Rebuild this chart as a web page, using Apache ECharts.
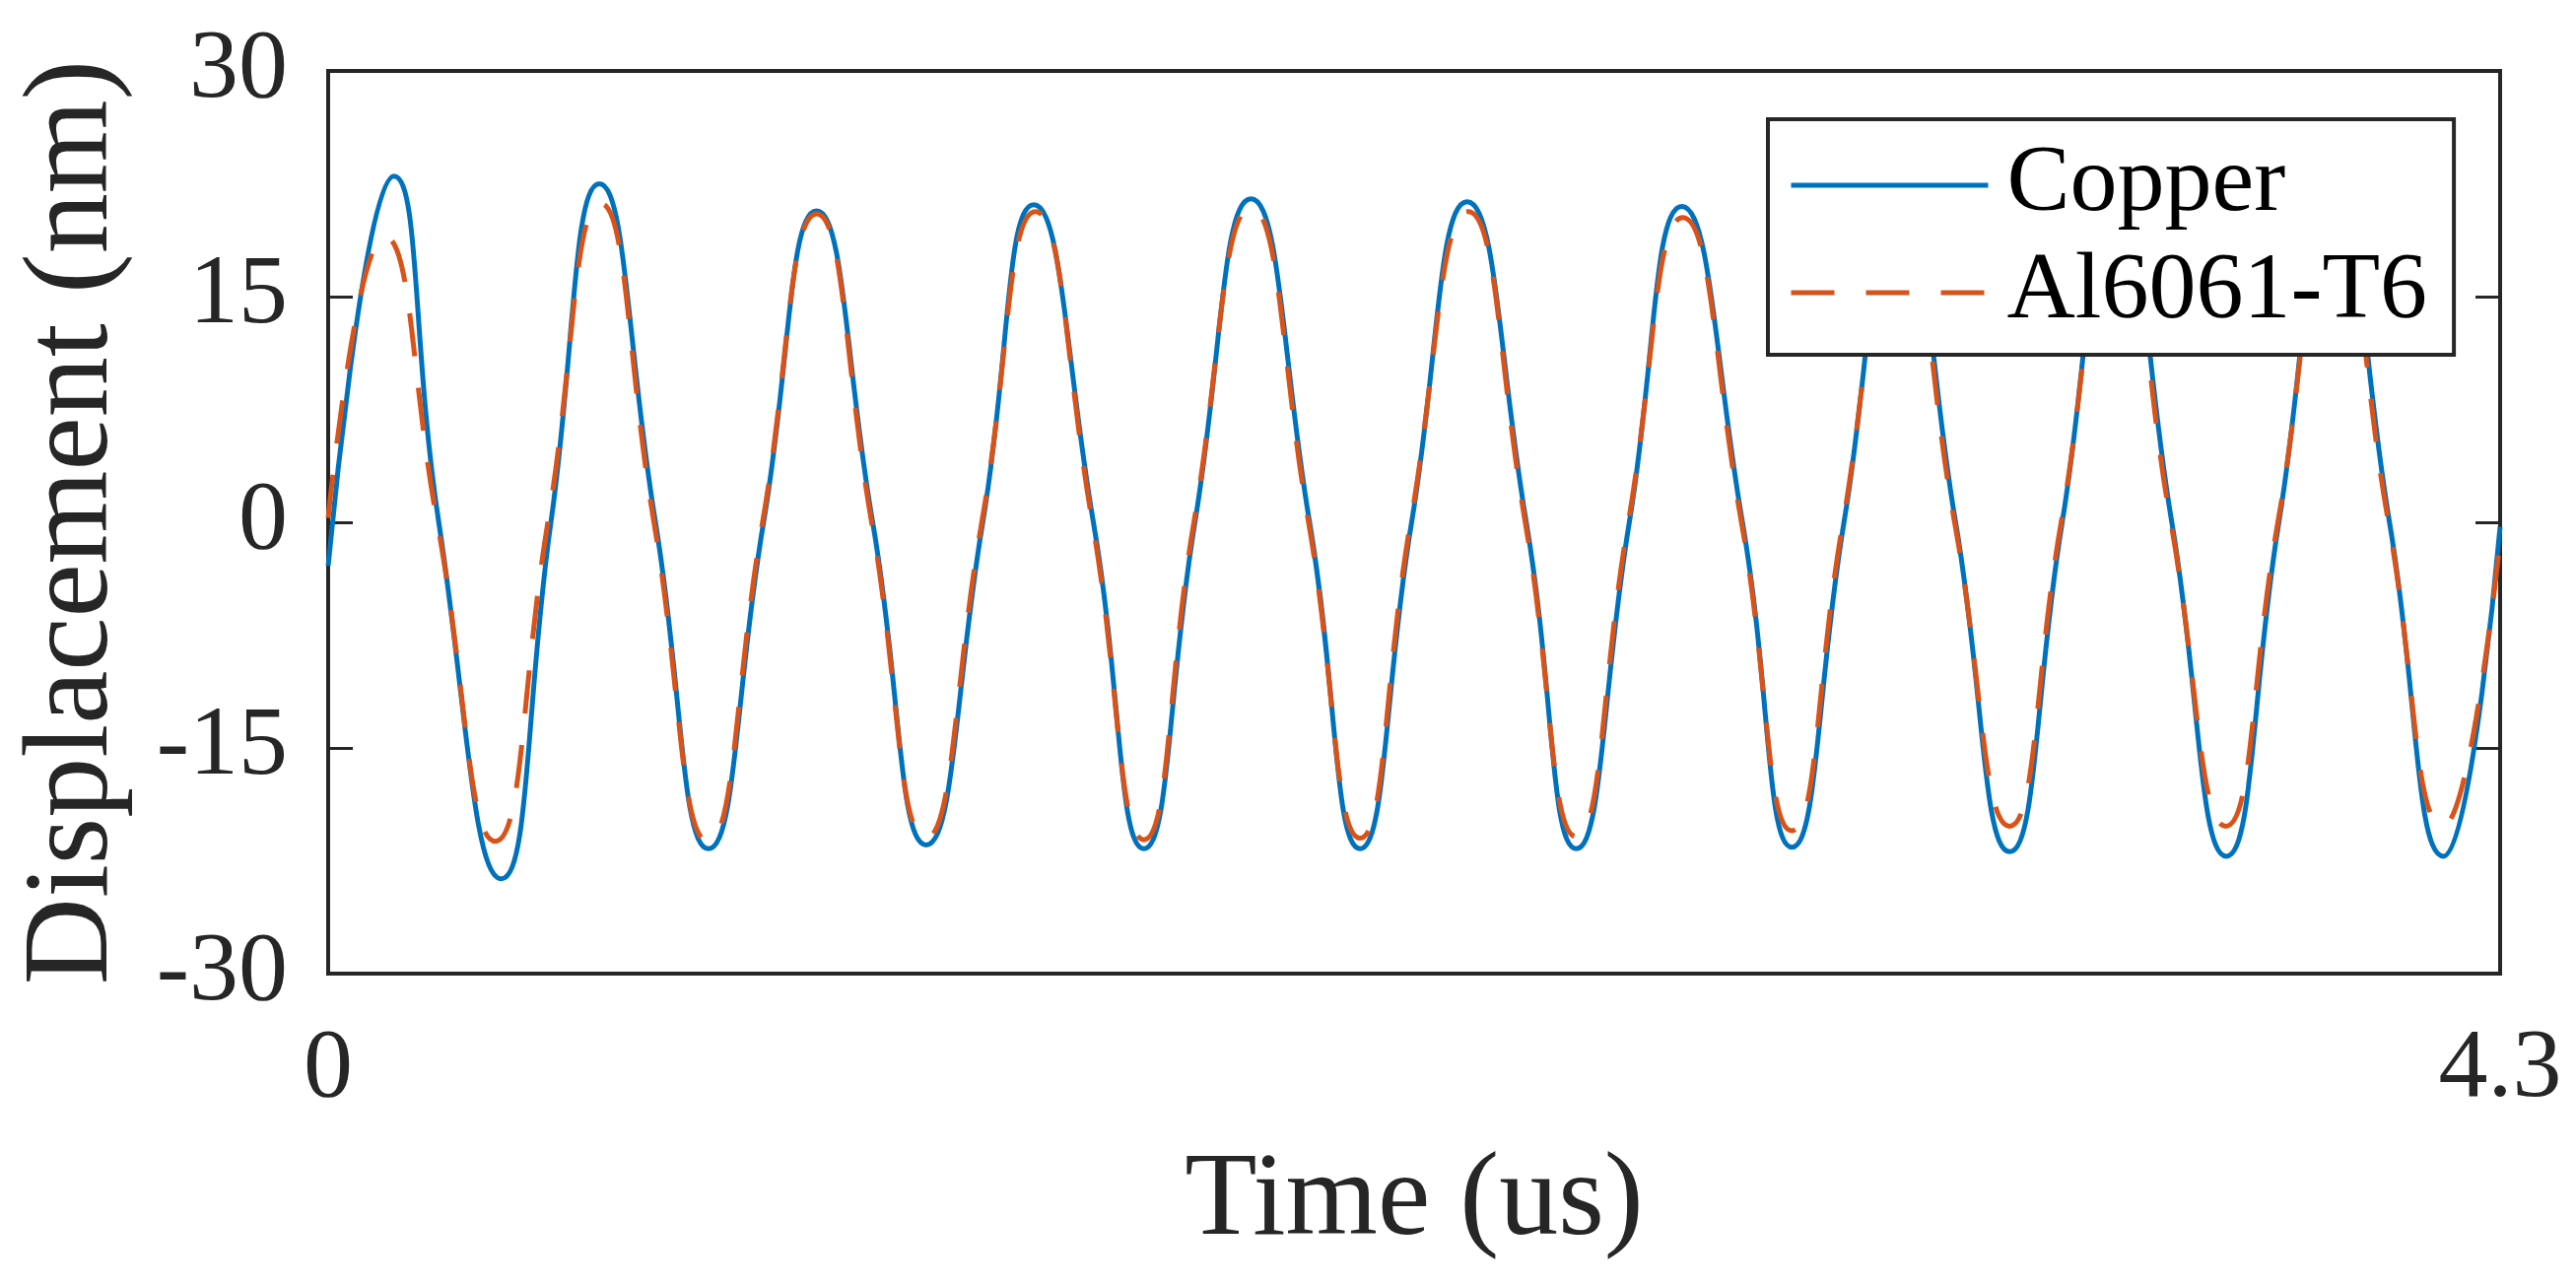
<!DOCTYPE html>
<html lang="en">
<head>
    <meta charset="UTF-8">
    <title>Displacement vs Time</title>
    <script src="https://cdn.jsdelivr.net/npm/echarts@6.0.0/dist/echarts.min.js"></script>
    <style>
        html, body { margin: 0; padding: 0; background: #fff; }
        #chart { width: 2614px; height: 1305px; }
    </style>
</head>
<body>
<div id="chart"></div>

<script>
    // values: peaks, zero crossings and troughs
    var copperTime = [0, 0.130, 0.219, 0.343, 0.441, 0.537, 0.648, 0.753, 0.862, 0.967,
        1.078, 1.184, 1.296, 1.397, 1.515, 1.615, 1.716, 1.827, 1.943, 2.043,
        2.145, 2.255, 2.372, 2.471, 2.576, 2.680, 2.800, 2.898, 3.001, 3.110,
        3.222, 3.329, 3.433, 3.540, 3.650, 3.758, 3.862, 3.970, 4.081, 4.188, 4.3];
    var copperDisp = [-2.9, 23.0, 0, -23.7, 0, 22.5, 0, -21.7, 0, 20.7,
        0, -21.45, 0, 21.1, 0, -21.7, 0, 21.5, 0, -21.7,
        0, 21.3, 0, -21.7, 0, 21.0, 0, -21.6, 0, 21.2,
        0, -21.9, 0, 21.3, 0, -22.2, 0, 21.3, 0, -22.2, -0.3];

    var alTime = [0, 0.111, 0.216, 0.331, 0.435, 0.539, 0.645, 0.752, 0.860, 0.967,
        1.076, 1.183, 1.294, 1.400, 1.513, 1.615, 1.714, 1.827, 1.941, 2.043,
        2.143, 2.257, 2.370, 2.471, 2.574, 2.682, 2.798, 2.898, 2.999, 3.110,
        3.220, 3.329, 3.431, 3.540, 3.648, 3.757, 3.860, 3.970, 4.079, 4.187, 4.3];
    var alDisp = [0.3, 19.0, 0, -21.2, 0, 21.2, 0, -21.2, 0, 20.5,
        0, -21.0, 0, 20.65, 0, -21.1, 0, 20.9, 0, -21.0,
        0, 20.65, 0, -20.9, 0, 20.25, 0, -20.5, 0, 20.3,
        0, -20.2, 0, 20.3, 0, -20.2, 0, 20.3, 0, -20.2, -1.2];

    var xTicks = [0, 4.3];
    var yTicks = [-30, -15, 0, 15, 30];

    var font = 'Liberation Serif';
    var ink = '#262626';
    var dash = [44, 32];

    function pairs(xs, ys) {
        return xs.map(function (x, i) { return [x, ys[i]]; });
    }

    var chart = echarts.init(document.getElementById('chart'));

    var yAxisBase = {
        type: 'value',
        min: yTicks[0],
        max: yTicks[yTicks.length - 1],
        interval: yTicks[1] - yTicks[0],
        splitLine: { show: false },
        axisLine: { show: false },
        axisTick: { show: true, inside: true, length: 25, lineStyle: { color: ink, width: 3 } }
    };

    var option = {
        backgroundColor: '#fff',
        animation: false,
        grid: {
            left: 333,
            right: 77,
            top: 72,
            bottom: 317,
            show: true,
            borderColor: ink,
            borderWidth: 4
        },
        legend: {
            orient: 'vertical',
            left: 1794,
            top: 121,
            padding: [17, 27, 13, 21],
            itemGap: 9,
            itemWidth: 200,
            itemHeight: 20,
            backgroundColor: '#fff',
            borderColor: ink,
            borderWidth: 4,
            borderRadius: 0,
            itemStyle: { opacity: 0 },
            lineStyle: { width: 5 },
            textStyle: {
                fontFamily: font,
                fontSize: 96,
                lineHeight: 100,
                color: '#000',
                padding: [0, 0, 0, 14]
            },
            data: ['Copper', 'Al6061-T6']
        },
        xAxis: {
            type: 'value',
            min: xTicks[0],
            max: xTicks[1],
            interval: xTicks[1] - xTicks[0],
            name: 'Time (us)',
            nameLocation: 'middle',
            nameGap: 172,
            nameTextStyle: { fontFamily: font, fontSize: 120, color: ink },
            splitLine: { show: false },
            axisLine: { show: false },
            axisTick: { show: false },
            axisLabel: { fontFamily: font, fontSize: 100, color: ink, margin: 48 }
        },
        yAxis: [
            Object.assign({}, yAxisBase, {
                position: 'left',
                name: 'Displacement (nm)',
                nameLocation: 'middle',
                nameGap: 196,
                nameTextStyle: { fontFamily: font, fontSize: 122, color: ink },
                axisLabel: { fontFamily: font, fontSize: 100, color: ink, margin: 41 }
            }),
            Object.assign({}, yAxisBase, {
                position: 'right',
                axisLabel: { show: false }
            })
        ],
        series: [
            {
                name: 'Copper',
                type: 'line',
                smooth: true,
                symbol: 'none',
                yAxisIndex: 0,
                lineStyle: { color: '#0072BD', width: 5 },
                itemStyle: { color: '#0072BD' },
                data: pairs(copperTime, copperDisp)
            },
            {
                name: 'Al6061-T6',
                type: 'line',
                smooth: true,
                symbol: 'none',
                yAxisIndex: 0,
                lineStyle: { color: '#D95319', width: 5, type: dash },
                itemStyle: { color: '#D95319' },
                data: pairs(alTime, alDisp)
            }
        ]
    };
    chart.setOption(option);
</script>
</body>
</html>
